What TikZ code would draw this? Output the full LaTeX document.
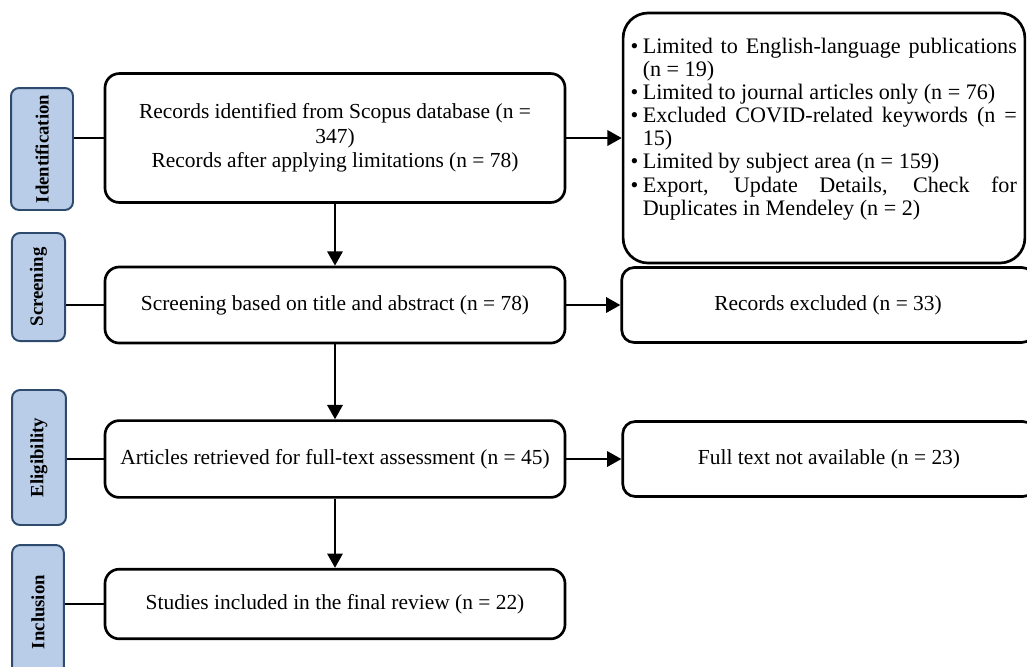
\documentclass[tikz,border=0pt]{standalone}
\usepackage{fontspec}
\setmainfont{Liberation Serif}
\usepackage{enumitem}
\usetikzlibrary{arrows.meta,positioning}

\definecolor{phasefill}{HTML}{B9CDE8}
\definecolor{phaseline}{HTML}{2E4B6E}

\tikzset{
  textfont/.style={font=\fontsize{12}{13.8}\selectfont},
  stagebox/.style={draw, textfont, line width=1.5pt, rounded corners=8pt,
    align=center, minimum width=257.6pt},
  sidebox/.style={draw, textfont, line width=1.5pt, rounded corners=7pt,
    align=center, minimum width=231pt, minimum height=42pt},
  phasebox/.style={draw=phaseline, fill=phasefill, line width=1.1pt,
    rounded corners=4.5pt, rotate=90, inner sep=0pt,
    font=\fontsize{10.5}{12}\selectfont\bfseries},
  link/.style={line width=1.5pt}
}

\begin{document}
\begin{tikzpicture}[x=0.56pt, y=-0.56pt, >={Triangle[length=8pt,width=8.5pt]}]

  \useasboundingbox (0,0) rectangle (1027,666);

  \node [stagebox, minimum height=72.2pt] (stage-1) at (335,138)
    {Records identified from Scopus database (n =\\ 347)\\
     Records after applying limitations (n = 78)};
  \node [stagebox, minimum height=42.6pt] (stage-2) at (335,305)
    {Screening based on title and abstract (n = 78)};
  \node [stagebox, minimum height=43pt] (stage-3) at (335,459)
    {Articles retrieved for full-text assessment (n = 45)};
  \node [stagebox, minimum height=39pt] (stage-4) at (335,604)
    {Studies included in the final review (n = 22)};

  \node [sidebox, rounded corners=14pt, minimum width=225pt, minimum height=140pt,
    inner xsep=4pt, text width=216pt, align=justify,
    font=\fontsize{12.4}{12.9}\selectfont] (excl-1) at (824,138)
    {\hyphenpenalty=10000
     \begin{itemize}[nosep, leftmargin=6.5pt, labelsep=2.5pt, label=\textbullet]
       \item Limited to English-language publications\linebreak (n = 19)
       \item Limited to journal articles only (n = 76)
       \item Excluded COVID-related keywords (n =\linebreak 15)
       \item Limited by subject area (n = 159)
       \item Export, Update Details, Check for\linebreak Duplicates in Mendeley (n = 2)
     \end{itemize}\par\vspace{4pt}\null};
  \node [sidebox] (excl-2) at (828,305) {Records excluded (n = 33)};
  \node [sidebox] (excl-3) at (829,459) {Full text not available (n = 23)};

  \foreach \t/\x/\y/\l/\w [count=\i] in {Identification/42/149/68.3/34.7,
      Screening/38.5/287/60.5/29.7, Eligibility/39/457.5/75.6/30.2,
      Inclusion/38/612/75/29}
    \node [phasebox, minimum width=\l pt, minimum height=\w pt] (phase-\i) at (\x,\y) {\t};

  \foreach \i in {1,...,4}
    \draw [link] (stage-\i.west -| phase-\i.south) -- (stage-\i.west);

  \foreach \i/\j in {1/2,2/3,3/4}
    \draw [link, ->] (stage-\i.south) -- (stage-\j.north);

  \foreach \i in {1,...,3}
    \draw [link, ->] (stage-\i.east) -- (excl-\i.west);

\end{tikzpicture}
\end{document}
